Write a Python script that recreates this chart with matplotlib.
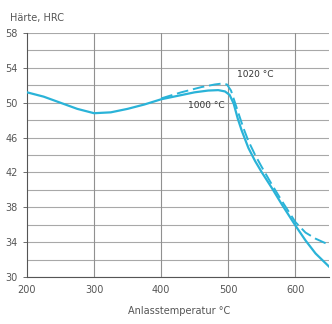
import matplotlib.pyplot as plt

# Anlasstemperatur (°C) und Härte (HRC)
temp_1000 = [200, 225, 250, 275, 300, 325, 350, 375, 400, 425, 450, 470, 485, 495, 502, 508,
             514, 520, 530, 540, 550, 565, 580, 600, 615, 630, 650]
hrc_1000 = [51.2, 50.7, 50.0, 49.3, 48.8, 48.9, 49.3, 49.8, 50.4, 50.8, 51.2, 51.4, 51.45, 51.3,
            50.9, 49.9, 48.2, 46.8, 44.8, 43.3, 42.0, 40.2, 38.3, 35.9, 34.2, 32.7, 31.2]

temp_1020 = [400, 430, 460, 480, 490, 498, 504, 510, 516, 522, 530, 540, 550, 565, 580,
             600, 615, 630, 650]
hrc_1020 = [50.5, 51.2, 51.8, 52.1, 52.2, 52.1, 51.4, 50.0, 48.6, 47.2, 45.6, 44.0, 42.6,
            40.6, 38.7, 36.3, 35.1, 34.4, 33.7]

xticks = [200, 300, 400, 500, 600]
yticks = [30, 34, 38, 42, 46, 50, 54, 58]

fig = plt.figure(figsize=(3.32, 3.24), dpi=100)
ax = fig.add_axes([0.081, 0.145, 0.91, 0.753])

for y in range(30, 59, 2):
    ax.axhline(y, color='#a8a8a8', lw=0.8, zorder=1)
for x in [300, 400, 500, 600]:
    ax.axvline(x, color='#909090', lw=0.8, zorder=1)

col = '#2ab3d8'
ax.plot(temp_1000, hrc_1000, color=col, lw=1.6, zorder=3)
ax.plot(temp_1020, hrc_1020, color=col, lw=1.4, ls=(0, (6, 2.5)), zorder=3)

ax.text(467, 49.7, '1000 °C', fontsize=6.5, color='#333333', ha='center', va='center')
ax.text(513, 53.2, '1020 °C', fontsize=6.5, color='#333333', ha='left', va='center')

ax.set_xlim(200, 650)
ax.set_ylim(30, 58)
ax.set_xticks(xticks)
ax.set_yticks(yticks)
ax.tick_params(labelsize=7, colors='#555555', length=3, width=0.6)
ax.tick_params(axis='x', length=0, pad=6)
for s in ['top', 'right']:
    ax.spines[s].set_visible(False)
for s in ['left', 'bottom']:
    ax.spines[s].set_color('#555555')
    ax.spines[s].set_linewidth(0.8)

fig.text(0.03, 0.945, 'Härte, HRC', fontsize=7, color='#555555', ha='left', va='center')
fig.text(0.54, 0.04, 'Anlasstemperatur °C', fontsize=7, color='#555555', ha='center', va='center')

fig.savefig('out.png', dpi=100)
